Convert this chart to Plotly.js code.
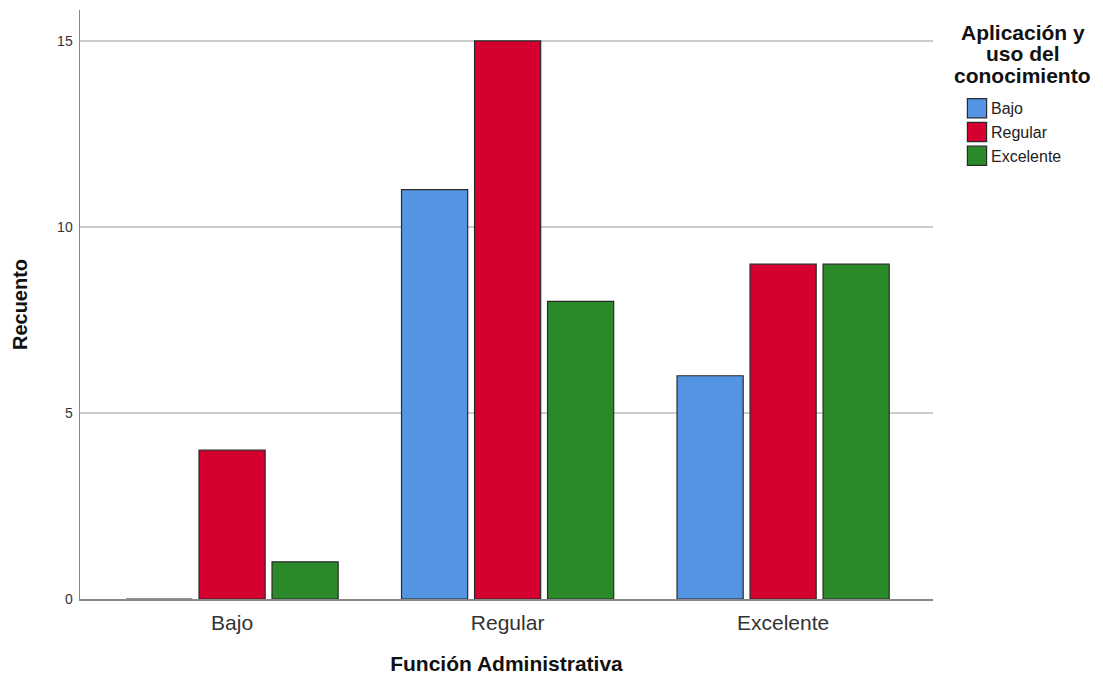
<!DOCTYPE html>
<html>
<head>
<meta charset="utf-8">
<script src="https://cdn.plot.ly/plotly-3.0.1.min.js"></script>
<style>html,body{margin:0;padding:0;background:#fff;}#chart{width:1103px;height:675px;}</style>
</head>
<body>
<div id="chart"></div>
<script>
var categories = ["Bajo", "Regular", "Excelente"];
var seriesNames = ["Bajo", "Regular", "Excelente"];
var valuesBajo = [0, 11, 6];
var valuesRegular = [4, 15, 9];
var valuesExcelente = [1, 8, 9];
var colors = ["#5495E3", "#D5002F", "#2A8A2A"];
var yTicks = [0, 5, 10, 15];
var legendTitleLines = ["Aplicación y", "uso del", "conocimiento"];

var seriesValues = [valuesBajo, valuesRegular, valuesExcelente];
var font = "Arial, 'Liberation Sans', sans-serif";

var traces = seriesNames.map(function(name, i){
  return {
    type: "bar",
    name: name,
    x: categories,
    y: seriesValues[i],
    marker: {color: colors[i], line: {color: "#2a2a2a", width: 1.2}},
    hoverinfo: "x+y+name"
  };
});

var titleY = [0.9626, 0.9253, 0.888];
var annotations = legendTitleLines.map(function(t, i){
  return {
    xref: "paper", yref: "paper", x: 1.1055, y: titleY[i],
    xanchor: "center", yanchor: "middle", showarrow: false,
    text: "<b>" + t + "</b>",
    font: {size: 21, color: "#111", family: font}
  };
});

var layout = {
  width: 1103, height: 675,
  margin: {l: 80, r: 170, t: 10, b: 76, pad: 0},
  paper_bgcolor: "#ffffff",
  plot_bgcolor: "#ffffff",
  font: {family: font, color: "#222"},
  barmode: "group",
  bargap: 0.205,
  bargroupgap: 0.094,
  showlegend: true,
  annotations: annotations,
  xaxis: {
    type: "category",
    range: [-0.552, 2.544],
    showline: true, linecolor: "#888", linewidth: 1.5,
    ticks: "", showgrid: false, zeroline: false,
    ticklabelstandoff: 4,
    tickfont: {size: 21, color: "#333", family: font},
    title: {text: "<b>Función Administrativa</b>", font: {size: 21, color: "#111", family: font}, standoff: 24}
  },
  yaxis: {
    range: [0, 15.83],
    tickvals: yTicks,
    ticktext: yTicks.map(String),
    showline: true, linecolor: "#888", linewidth: 1.5,
    showgrid: true, gridcolor: "#cccccc", gridwidth: 2,
    zeroline: false,
    ticks: "",
    ticklabelstandoff: 3,
    tickfont: {size: 14, color: "#333", family: font},
    title: {text: "<b>Recuento</b>", font: {size: 20, color: "#111", family: font}, standoff: 24}
  },
  legend: {
    x: 1.0211, xanchor: "left",
    y: 0.862, yanchor: "top",
    bgcolor: "rgba(0,0,0,0)",
    font: {size: 16, color: "#222", family: font},
    tracegroupgap: 0,
    itemclick: false
  }
};

Plotly.newPlot("chart", traces, layout, {displayModeBar: false, staticPlot: true}).then(function(gd){
  gd.querySelectorAll(".legend .legendpoints path").forEach(function(p){
    p.setAttribute("transform", "translate(26,0) scale(1.6)");
    p.style.strokeWidth = "0.75px";
  });
});
</script>
</body>
</html>
